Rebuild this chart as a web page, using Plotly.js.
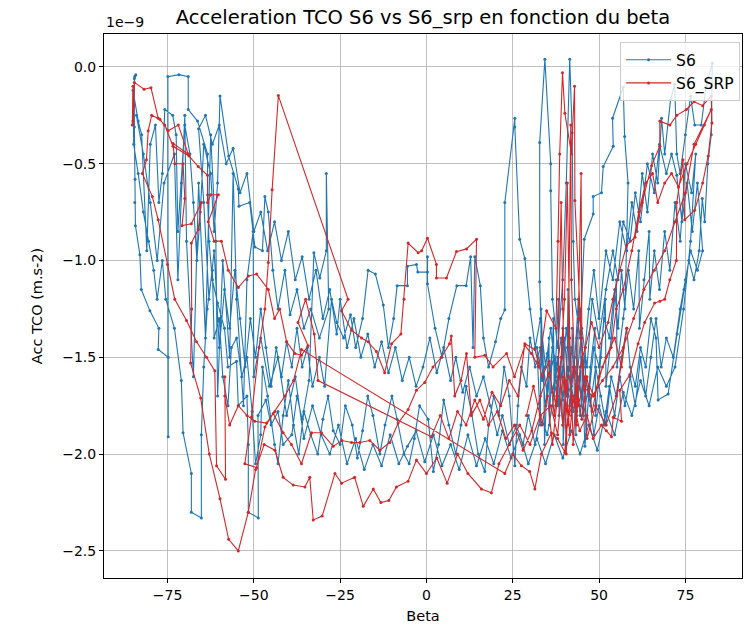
<!DOCTYPE html>
<html>
<head>
<meta charset="utf-8">
<script src="https://cdn.plot.ly/plotly-3.0.1.min.js"></script>
<style>html,body{margin:0;padding:0;background:#fff}#chart{width:749px;height:626px}</style>
</head>
<body>
<div id="chart"></div>
<script>
// Values: [beta (deg), acceleration in units of 1e-9 m.s-2]
const s6Pass1 = [[-84.5,-0.05],[-84.2,-0.04],[-84.6,-0.06],[-84.6,-0.31],[-84.4,-0.58],[-84.5,-0.70],[-84.3,-0.82],[-83.0,-0.97],[-82.6,-1.15],[-80.1,-1.26],[-77.5,-1.35],[-77.7,-1.46],[-74.8,-1.50],[-74.8,-1.91],[-74.9,-0.05],[-71.7,-0.04],[-69.0,-0.05],[-69.0,-0.22],[-66.3,-0.28],[-63.4,-0.45],[-63.4,-0.66],[-63.0,-0.90],[-62.0,-1.10],[-60.5,-1.22],[-58.5,-1.35],[-57.5,-1.55],[-55.0,-1.52],[-54.5,-1.75],[-52.0,-1.70],[-51.6,-1.95],[-51.6,-2.30],[-48.7,-2.33],[-48.8,-1.80],[-46.5,-1.72],[-45.0,-1.85],[-43.0,-1.78],[-41.5,-1.95],[-39.0,-1.90],[-37.5,-1.70],[-36.0,-1.82],[-34.0,-1.62]];
const s6Pass2 = [[-32.6,-0.96],[-30.9,-1.09],[-29.0,-0.95],[-29.0,-0.55],[-28.3,-1.25],[-31.0,-1.40],[-33.5,-1.25],[-35.5,-1.35],[-37.5,-1.15],[-39.5,-1.28],[-41.0,-1.05],[-43.0,-1.25],[-44.5,-1.05],[-45.8,-0.75],[-46.8,-0.67],[-47.5,-0.95],[-49.7,-0.93],[-51.2,-0.70],[-54.3,-0.72],[-54.5,-0.63],[-57.3,-0.46],[-59.8,-0.15],[-60.5,-0.60],[-61.5,-0.85],[-62.5,-0.55],[-64.5,-0.40],[-65.5,-0.75],[-66.5,-1.00],[-67.5,-0.70],[-68.5,-0.45],[-70.0,-0.30],[-71.0,-0.60],[-72.0,-0.85],[-72.5,-0.35],[-73.5,-0.25],[-75.8,-0.22],[-76.5,-0.55],[-77.5,-0.70],[-78.5,-0.30],[-80.0,-0.40],[-81.0,-0.95],[-82.5,-0.35],[-83.5,-0.28],[-85.0,-0.12]];
const s6Pass3 = [[-84.8,-0.40],[-83.5,-0.55],[-82.0,-0.75],[-80.5,-0.90],[-79.0,-1.05],[-78.0,-1.20],[-76.5,-1.00],[-75.5,-1.20],[-73.0,-1.35],[-71.0,-1.62],[-70.5,-1.89],[-68.1,-2.10],[-68.1,-2.30],[-65.2,-2.33],[-65.2,-1.90],[-64.5,-1.55],[-63.5,-1.25],[-62.0,-1.05],[-61.5,-1.40],[-60.0,-1.30],[-59.0,-1.60],[-57.5,-1.75],[-56.5,-1.45],[-55.0,-1.40],[-53.5,-1.60],[-52.0,-1.50],[-50.5,-1.78],[-49.5,-2.05],[-48.0,-1.90],[-47.5,-1.55],[-46.0,-1.70],[-44.0,-1.95],[-43.0,-2.05],[-41.5,-1.80],[-40.0,-1.62],[-38.5,-1.85],[-37.0,-2.00],[-35.5,-1.78],[-33.5,-1.90],[-31.5,-2.00],[-30.0,-1.82],[-28.5,-1.70],[-27.0,-1.88],[-25.0,-1.95],[-23.5,-1.75],[-21.5,-1.85],[-20.0,-2.02],[-18.5,-1.88],[-17.0,-1.70],[-15.5,-1.80],[-13.5,-2.00],[-12.0,-1.85],[-10.0,-1.70],[-8.5,-1.82],[-6.5,-2.00],[-5.0,-2.05],[-3.5,-1.92],[-2.0,-1.75],[0.5,-1.82],[2.0,-2.09],[3.5,-1.95],[5.0,-1.72],[6.5,-1.85],[8.5,-2.00],[10.0,-1.85],[11.5,-1.65],[13.0,-1.78],[15.0,-2.00],[16.9,-2.09],[18.0,-1.85],[19.5,-1.70],[21.0,-1.80],[22.5,-1.55],[24.0,-1.70],[25.6,-2.06],[26.5,-1.75],[27.5,-1.55],[29.0,-1.65],[30.0,-1.40],[31.5,-1.55],[33.0,-1.45],[34.5,-1.75],[35.5,-1.60],[37.0,-1.50],[38.0,-1.75],[39.5,-1.55],[40.5,-1.35],[42.0,-1.65],[43.5,-1.80],[45.0,-1.50],[45.9,-1.96],[47.0,-1.70],[48.5,-1.45],[50.0,-1.55]];
const s6Pass4 = [[51.5,-1.30],[53.0,-1.40],[54.5,-1.15],[55.5,-1.35],[56.5,-1.05],[57.5,-1.25],[58.4,-0.60],[57.4,-0.36],[57.0,-0.105],[53.9,-0.265],[54.1,-0.41],[51.2,-0.515],[50.7,-0.65],[48.3,-0.67],[48.3,-0.76],[45.7,-0.89],[44.5,-1.40],[43.0,-1.20],[42.5,-0.90],[42.2,-0.34],[41.5,0.04],[40.5,-0.60],[39.5,-1.10],[38.0,-1.45],[36.5,-1.20],[36.0,-0.64],[36.0,-0.50],[34.3,0.04],[32.8,-0.39],[32.8,-1.11],[33.5,-1.50],[35.0,-1.70],[36.5,-1.45],[38.5,-1.60],[40.0,-1.40],[41.5,-1.75],[43.0,-1.50],[44.0,-1.20],[45.5,-1.55],[47.0,-1.25],[48.5,-1.05],[50.0,-1.30],[52.0,-0.95],[54.0,-1.10],[56.0,-0.80],[58.0,-0.95],[59.5,-0.70],[61.0,-0.85],[62.5,-0.55],[64.0,-0.75],[65.5,-0.45],[67.0,-0.60],[68.1,-0.265],[69.0,-0.45],[70.7,-0.17],[71.9,-0.09],[72.5,-0.45],[73.5,-0.55],[75.0,-0.35],[76.5,-0.15],[77.7,-0.30],[79.6,-0.30],[81.0,-0.10],[82.8,0.02],[82.5,-0.35]];
const s6Pass5 = [[81.5,-0.50],[80.6,-0.80],[79.9,-0.68],[79.0,-0.95],[77.5,-1.10],[76.0,-1.00],[74.6,-1.15],[72.6,-1.38],[70.0,-1.69],[67.1,-1.72],[66.5,-1.40],[65.0,-1.30],[63.5,-1.55],[62.0,-1.45],[60.5,-1.65],[59.0,-1.55],[58.0,-1.35],[56.5,-1.50],[55.0,-1.70],[53.5,-1.60],[52.0,-1.85],[50.5,-1.70],[49.0,-1.55],[47.5,-1.75],[46.0,-1.60],[44.5,-1.80],[43.0,-1.55],[41.0,-1.70],[39.5,-1.85],[38.0,-1.60],[36.5,-1.75],[35.0,-1.90],[33.0,-1.80],[31.5,-1.95],[29.5,-1.80],[28.0,-1.95],[26.0,-1.85],[24.0,-1.95],[22.0,-1.80],[20.5,-1.90],[18.5,-1.75],[16.5,-1.60],[14.5,-1.70],[12.5,-1.55],[10.5,-1.68],[8.5,-1.50],[7.0,-1.62],[5.0,-1.45],[3.0,-1.58],[1.0,-1.40],[-1.0,-1.55],[-3.0,-1.65],[-5.0,-1.50],[-7.0,-1.62],[-9.0,-1.45],[-11.0,-1.58],[-13.0,-1.42],[-15.0,-1.55],[-17.0,-1.38],[-19.0,-1.50],[-21.0,-1.30],[-23.0,-1.45],[-25.0,-1.20],[-26.0,-1.38],[-28.0,-1.15],[-30.0,-1.30],[-32.0,-1.05],[-34.0,-1.20],[-36.0,-0.98],[-38.0,-1.10],[-40.0,-0.85],[-42.0,-1.00],[-44.0,-0.80],[-46.0,-0.95],[-48.0,-0.75],[-50.0,-0.85],[-52.0,-0.55],[-54.0,-0.65],[-56.0,-0.42],[-58.0,-0.50],[-60.0,-0.30],[-62.0,-0.40],[-64.0,-0.25],[-66.0,-0.32]];
const s6Pass6 = [[-64.5,-0.70],[-63.0,-1.20],[-61.5,-0.95],[-60.0,-1.45],[-58.5,-1.15],[-57.0,-1.35],[-55.5,-1.05],[-54.0,-1.30],[-52.5,-1.55],[-51.0,-1.30],[-49.5,-1.50],[-48.0,-1.25],[-46.5,-1.45],[-45.0,-1.65],[-43.5,-1.45],[-42.0,-1.60],[-40.5,-1.42],[-39.0,-1.55],[-37.5,-1.35],[-36.0,-1.55],[-34.5,-1.45],[-33.0,-1.65],[-31.0,-1.50],[-29.5,-1.65],[-27.5,-1.20],[-26.0,-1.32],[-24.0,-1.40],[-22.0,-1.28],[-20.5,-1.45],[-18.5,-1.30],[-16.9,-1.05],[-14.8,-1.07],[-12.5,-1.23],[-11.0,-1.45],[-9.5,-1.30],[-8.5,-1.13],[-5.5,-1.13],[-5.5,-1.03],[-2.9,-1.02],[-2.5,-1.06],[0.3,-1.06],[0.3,-0.98],[0.3,-1.12],[2.5,-1.35],[4.5,-1.50],[6.5,-1.30],[8.8,-1.13],[11.5,-1.13],[12.8,-0.98],[13.5,-1.45],[14.0,-0.98],[15.6,-1.13],[16.5,-1.40],[18.0,-1.55],[20.0,-1.42],[21.5,-1.30],[22.7,-1.255],[22.7,-0.70],[25.6,-0.265],[25.6,-0.31],[27.0,-0.89],[28.5,-0.99],[30.0,-1.25],[31.5,-1.45],[33.0,-1.30],[34.5,-1.55],[36.0,-1.35],[37.5,-1.60],[39.0,-1.40],[40.5,-1.70],[42.0,-1.45],[43.5,-1.62],[45.0,-1.35],[46.5,-1.55],[48.0,-1.20],[50.0,-1.40],[52.0,-1.15],[54.0,-0.95],[55.5,-1.10],[57.0,-0.80],[59.0,-0.90],[60.5,-0.65],[62.0,-0.80],[64.0,-0.50],[66.0,-0.65],[67.5,-0.40],[69.5,-0.55],[71.0,-0.45],[72.5,-0.56],[74.0,-0.80],[75.5,-0.60],[77.0,-0.85],[78.5,-0.60],[80.0,-0.95],[78.5,-1.05],[76.5,-0.95],[75.0,-1.10],[73.5,-1.25],[71.5,-1.50],[69.5,-1.40],[68.0,-1.55],[66.5,-1.30],[65.0,-1.50],[63.5,-1.70],[62.0,-1.50],[60.5,-1.75],[59.0,-1.60],[57.5,-1.75],[56.0,-1.60],[54.5,-1.80],[53.0,-1.65],[51.5,-1.85],[50.0,-1.75],[48.5,-1.90],[47.0,-1.65],[45.5,-1.80],[44.0,-1.60],[42.5,-1.78],[41.0,-1.55],[39.5,-1.72],[38.0,-1.50],[36.5,-1.68],[35.0,-1.48],[33.5,-1.62],[32.0,-1.45]];
const s6Pass7 = [[33.0,-1.85],[33.2,-1.25],[34.0,-1.60],[34.2,-1.95],[35.5,-1.40],[35.6,-1.85],[36.8,-1.30],[37.0,-1.70],[38.2,-1.20],[38.4,-1.80],[39.5,-1.35],[39.6,-1.95],[40.8,-1.45],[41.0,-1.15],[42.0,-1.80],[42.2,-1.35],[43.3,-1.90],[43.5,-1.40],[44.6,-1.25],[44.8,-1.75],[46.0,-1.45],[46.2,-1.90],[47.5,-1.55],[48.8,-1.35],[49.0,-1.80],[50.5,-1.50],[51.8,-1.20],[52.0,-1.65],[53.5,-1.40],[55.0,-1.10],[55.2,-1.55],[57.0,-1.30],[58.5,-1.05],[60.0,-1.25],[61.5,-0.95],[61.7,-1.35],[63.0,-1.10],[64.5,-0.85],[64.7,-1.20],[66.0,-0.95],[67.5,-1.15],[69.0,-0.85],[70.5,-1.05],[72.0,-0.70],[73.5,-0.90],[75.0,-0.50],[76.8,-0.65],[78.0,-0.45]];
const s6Pass8 = [[76.5,-0.90],[74.5,-1.25],[72.0,-1.55],[69.5,-1.65],[67.0,-1.55],[64.5,-1.75],[62.0,-1.62],[59.5,-1.80],[57.0,-1.68],[54.5,-1.90],[52.0,-1.78],[49.5,-1.98],[47.0,-1.85],[44.5,-2.00],[42.0,-1.88],[39.5,-2.02],[37.0,-1.90],[34.5,-2.05],[32.0,-1.92],[29.5,-2.05],[27.0,-1.90],[24.5,-2.02],[22.0,-1.88],[19.5,-2.05],[17.0,-1.92],[14.5,-2.06],[12.0,-1.90],[9.5,-2.08],[7.0,-1.95],[4.5,-2.06],[2.0,-1.90],[-0.5,-2.04],[-3.0,-1.88],[-5.5,-1.96],[-8.0,-2.05],[-10.5,-1.90],[-13.0,-2.06],[-15.5,-1.95],[-18.0,-2.08],[-20.5,-1.92],[-23.0,-2.05],[-25.5,-1.85],[-28.0,-2.00],[-30.5,-1.90],[-33.0,-1.75],[-35.5,-1.92],[-38.0,-1.60],[-40.5,-1.80],[-43.0,-1.50],[-45.5,-1.65],[-48.0,-1.40],[-50.0,-1.60],[-50.2,-0.85],[-52.0,-1.10],[-53.0,-1.75],[-55.0,-1.20],[-56.0,-0.55],[-57.0,-1.50],[-59.0,-1.00],[-60.5,-1.70],[-61.0,-0.90],[-62.5,-0.35],[-64.0,-1.40],[-66.0,-0.60],[-67.5,-1.60],[-69.5,-0.90],[-70.0,-0.25],[-72.0,-1.10],[-73.0,-0.45],[-76.0,-0.60],[-78.0,-1.00],[-80.0,-0.70],[-82.0,-0.45],[-84.0,-0.25]];

const srpPass1 = [[-85.0,-0.10],[-85.2,-0.30],[-84.8,-0.20],[-85.0,-0.28],[-84.6,-0.08],[-81.8,-0.115],[-79.8,-0.107],[-77.7,-0.265],[-75.8,-0.30],[-73.4,-0.41],[-68.8,-0.46],[-66.1,-0.515],[-63.4,-0.56],[-63.4,-0.70],[-62.5,-0.66],[-60.3,-0.66],[-63.2,-0.80],[-61.5,-0.90],[-59.4,-0.90],[-57.4,-1.05],[-54.5,-1.14],[-51.6,-1.08],[-49.2,-1.07],[-45.8,-1.15],[-44.0,-1.30],[-42.5,-1.25],[-40.5,-1.42],[-38.1,-1.48],[-36.2,-1.49],[-34.3,-1.44],[-37.2,-1.32],[-35.0,-1.20],[-32.5,-1.38],[-31.4,-1.62],[1.4,-1.91],[4.0,-1.80],[6.5,-1.92],[9.0,-1.78],[11.5,-1.85],[14.0,-1.72],[16.5,-1.82],[19.0,-1.68],[21.5,-1.75],[24.0,-1.62],[26.5,-1.70],[28.5,-1.43],[31.4,-1.46],[33.5,-1.60],[35.5,-1.52],[37.0,-1.80],[38.5,-1.55],[39.5,-1.85],[40.5,-1.62],[41.5,-1.90],[42.5,-1.70],[43.5,-1.78],[44.5,-1.55],[46.0,-1.45],[47.8,-1.32],[50.0,-1.45],[52.6,-1.32],[54.0,-1.20],[56.0,-1.05],[58.0,-0.92],[60.4,-0.88],[62.5,-0.70],[65.2,-0.51],[67.6,-0.41],[67.6,-0.28],[70.5,-0.30],[72.5,-0.25],[75.3,-0.22],[77.5,-0.18],[80.0,-0.20],[82.5,-0.15]];
const srpPass2 = [[82.7,-0.29],[81.6,-0.46],[80.0,-0.60],[77.7,-0.74],[74.8,-0.79],[74.3,-0.48],[72.5,-0.70],[72.4,-1.00],[70.5,-1.10],[69.0,-1.20],[67.6,-1.21],[66.1,-1.22],[63.2,-1.32],[61.3,-1.43],[58.9,-1.59],[56.0,-1.67],[56.5,-1.83],[54.1,-1.81],[53.6,-1.91],[52.1,-1.88],[50.7,-1.85],[48.3,-1.92],[46.5,-1.80],[44.4,-1.88],[42.5,-1.72],[40.5,-1.86],[40.1,-1.99],[38.0,-1.92],[36.2,-1.89],[33.3,-2.00],[31.4,-2.18],[29.9,-2.09],[27.5,-2.06],[25.0,-2.00],[22.7,-2.10],[-36.2,-1.46],[-38.5,-1.62],[-41.0,-1.70],[-43.9,-1.78],[-46.3,-1.84],[-49.7,-1.83],[-52.0,-1.80],[-54.5,-1.75],[-57.0,-1.85],[-58.4,-1.70],[-58.4,-1.60],[-58.2,-2.13],[-60.8,-2.06],[-61.3,-1.57],[-63.7,-1.50],[-66.6,-1.42],[-69.5,-1.31],[-72.9,-1.20],[-75.0,-1.02],[-77.7,-0.79],[-79.4,-0.67],[-82.3,-0.55],[-81.1,-0.48],[-80.6,-0.33],[-79.6,-0.25],[-77.2,-0.27],[-74.8,-0.33],[-71.9,-0.30],[-69.0,-0.45],[-73.4,-0.395],[-72.9,-0.50],[-70.5,-0.50],[-70.0,-0.68],[-70.8,-0.82],[-68.1,-0.81],[-65.2,-0.70],[-66.1,-0.84],[-68.1,-0.91],[-68.0,-1.25],[-68.3,-1.53],[-65.4,-1.71],[-62.9,-2.00],[-59.8,-2.23],[-57.3,-2.44],[-54.5,-2.50],[-51.6,-2.30],[-49.5,-2.08],[-47.0,-1.95],[-43.9,-1.98],[-41.5,-2.12],[-38.6,-2.16],[-35.2,-2.17],[-33.8,-2.12],[-32.8,-2.34],[-30.2,-2.32],[-26.5,-2.10],[-24.6,-2.15],[-20.8,-2.12],[-18.3,-2.27],[-15.4,-2.18],[-13.2,-2.25],[-10.9,-2.24],[-8.7,-2.17],[-5.3,-2.14],[-2.9,-2.03],[0.0,-2.10],[3.0,-2.02],[6.0,-2.15],[9.0,-2.00],[12.0,-2.10],[15.9,-2.18],[18.8,-2.20],[21.0,-2.05],[24.0,-1.95],[27.0,-1.85],[30.0,-1.95],[33.0,-1.80],[36.0,-1.75],[38.0,-1.90],[39.5,-1.60],[41.0,-1.85],[42.5,-1.55],[44.0,-1.75],[46.0,-1.60],[48.5,-1.70],[51.0,-1.55],[53.5,-1.45],[55.0,-1.25],[57.0,-1.15],[59.5,-0.95],[61.5,-0.75],[63.5,-0.60],[65.5,-0.55],[67.0,-0.70],[69.0,-0.60],[71.0,-0.55],[73.0,-0.62],[75.5,-0.50],[78.0,-0.40],[80.5,-0.30],[82.5,-0.22]];
const srpPass3 = [[77.5,-0.40],[75.0,-0.65],[72.0,-0.80],[69.0,-0.95],[66.0,-1.05],[63.0,-1.15],[60.0,-1.30],[57.0,-1.45],[54.0,-1.55],[51.0,-1.62],[48.0,-1.70],[45.5,-1.65],[43.0,-0.69],[42.9,-0.10],[42.0,-0.45],[40.1,-0.24],[39.4,-0.03],[38.6,-0.45],[38.1,-0.90],[37.5,-1.35],[34.8,-1.26],[32.5,-1.55],[30.4,-1.48],[28.5,-1.44],[25.5,-1.60],[23.2,-1.48],[19.3,-1.55],[16.9,-1.49],[14.0,-1.50],[14.5,-0.89],[11.6,-0.94],[8.7,-0.954],[5.8,-1.09],[2.9,-1.09],[2.9,-1.02],[0.3,-0.885],[-1.4,-0.95],[-2.4,-0.96],[-5.3,-0.91],[-6.5,-1.20],[-7.4,-1.38],[-10.1,-1.43],[-12.1,-1.58],[-14.5,-1.47],[-16.9,-1.42],[-18.8,-1.40],[-21.7,-1.36],[-24.6,-1.26],[-22.7,-1.20],[-42.9,-0.148],[-44.7,-0.635],[-45.8,-1.01],[-46.8,-1.25],[-48.5,-1.45],[-50.7,-1.81],[-52.6,-2.05],[-49.2,-2.07],[-46.8,-1.86],[-44.4,-1.79],[-41.5,-1.89],[-39.1,-1.95],[-36.2,-2.05],[-33.3,-1.89],[-30.4,-1.89],[-27.0,-1.96],[-24.5,-1.93],[-21.7,-1.94],[-19.3,-1.94],[-16.4,-1.93],[-13.5,-1.98],[-10.6,-1.94],[-8.2,-1.84],[-5.3,-1.77],[-2.9,-1.67],[-0.5,-1.63],[1.9,-1.55],[4.3,-1.50],[6.7,-1.43],[7.2,-1.39],[8.2,-1.70],[10.0,-1.62],[11.6,-1.48],[13.0,-1.80],[15.5,-1.72],[18.0,-1.85],[20.5,-1.78],[23.0,-1.92],[25.5,-1.85],[28.0,-1.98],[30.5,-1.88],[33.0,-1.70],[35.5,-1.58],[37.5,-1.75],[39.0,-1.50],[40.0,-1.20],[40.8,-0.60],[41.5,-1.40],[42.5,-1.95],[43.5,-1.65],[45.0,-1.82],[46.5,-1.60],[48.0,-1.78],[50.0,-1.60],[52.0,-1.50],[54.5,-1.40],[56.5,-1.55],[58.0,-1.35]];
const srpPass4 = [[55.0,-1.70],[52.0,-1.85],[49.0,-1.75],[46.5,-1.92],[45.0,-1.40],[44.8,-0.55],[44.0,-1.30],[43.5,-1.85],[42.0,-1.10],[41.8,-0.30],[41.0,-1.60],[40.5,-2.00],[39.5,-1.25],[39.0,-0.70],[38.0,-1.70],[36.5,-1.95],[35.0,-1.70],[33.5,-1.85],[31.0,-1.65],[29.0,-1.80]];

const xTickVals = [-75, -50, -25, 0, 25, 50, 75];
const xTickText = ['−75', '−50', '−25', '0', '25', '50', '75'];
const yTickVals = [0, -0.5, -1.0, -1.5, -2.0, -2.5];
const yTickText = ['0.0', '−0.5', '−1.0', '−1.5', '−2.0', '−2.5'];

const s6Passes = [s6Pass1, s6Pass2, s6Pass3, s6Pass4, s6Pass5, s6Pass6, s6Pass7, s6Pass8];
const srpPasses = [srpPass1, srpPass2, srpPass3, srpPass4];
const s6 = [].concat(...s6Passes);
const srp = [].concat(...srpPasses);

const FONT = 'DejaVu Sans, sans-serif';
const traces = [
  {x: s6.map(p => p[0]), y: s6.map(p => p[1]), name: 'S6', type: 'scatter', mode: 'lines+markers',
   line: {color: '#1f77b4', width: 1.1}, marker: {color: '#1f77b4', size: 3}},
  {x: srp.map(p => p[0]), y: srp.map(p => p[1]), name: 'S6_SRP', type: 'scatter', mode: 'lines+markers',
   line: {color: '#d62728', width: 1.1}, marker: {color: '#d62728', size: 3}}
];

const axisCommon = {
  showline: true, mirror: true, linecolor: '#000', linewidth: 1,
  showgrid: true, gridcolor: '#b0b0b0', gridwidth: 0.8,
  ticks: 'outside', ticklen: 4, tickcolor: '#000', tickwidth: 1,
  zeroline: false, tickfont: {family: FONT, size: 14, color: '#000'}
};

const layout = {
  width: 749, height: 626,
  margin: {l: 104, r: 7, t: 34, b: 48},
  paper_bgcolor: '#fff', plot_bgcolor: '#fff',
  font: {family: FONT, color: '#000'},
  title: {text: 'Acceleration TCO S6 vs S6_srp en fonction du beta', font: {family: FONT, size: 19.5, color: '#000'},
          x: 0.5, xref: 'paper', y: 1 - 17/626, yref: 'container', yanchor: 'middle'},
  xaxis: Object.assign({}, axisCommon, {range: [-93.4, 91.4], tickvals: xTickVals, ticktext: xTickText,
          title: {text: 'Beta', font: {family: FONT, size: 14.5}, standoff: 9}}),
  yaxis: Object.assign({}, axisCommon, {range: [-2.64, 0.17], tickvals: yTickVals, ticktext: yTickText,
          title: {text: 'Acc TCO (m.s-2)', font: {family: FONT, size: 14.5}, standoff: 16}}),
  showlegend: true,
  legend: {x: 0.997, xanchor: 'right', y: 0.985, yanchor: 'top', bgcolor: 'rgba(255,255,255,0.8)',
           bordercolor: '#cccccc', borderwidth: 1, font: {family: FONT, size: 15.5}, itemwidth: 45,
           tracegroupgap: 2},
  annotations: [{text: '1e−9', xref: 'paper', yref: 'paper', x: 0, y: 1, xanchor: 'left', yanchor: 'bottom',
                 yshift: 2, showarrow: false, font: {family: FONT, size: 14, color: '#000'}}]
};

Plotly.newPlot('chart', traces, layout, {displayModeBar: false, staticPlot: true});
</script>
</body>
</html>
